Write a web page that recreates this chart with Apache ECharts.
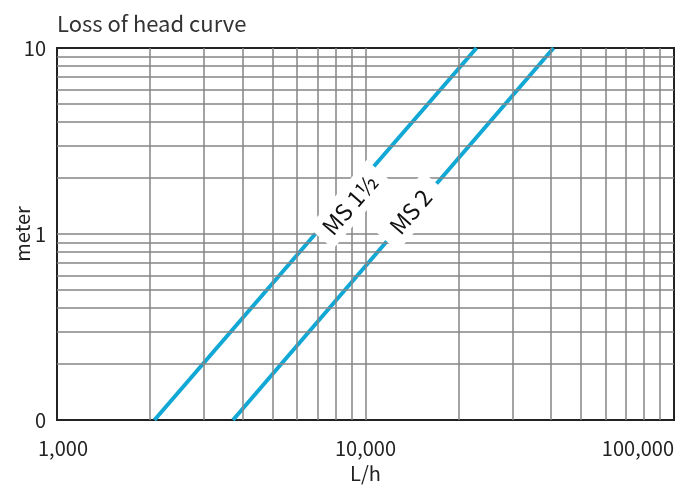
<!DOCTYPE html>
<html>
<head>
<meta charset="utf-8">
<script src="https://cdn.jsdelivr.net/npm/echarts@6/dist/echarts.min.js"></script>
<style>
html,body{margin:0;padding:0;background:#fff;}
#chart{width:682px;height:489px;}
</style>
</head>
<body>
<div id="chart"></div>
<script>
// Flow (L/h) vs loss of head (meter)
const ms15Flow = [2070, 6870, 22900];
const ms15Head = [0.1, 1, 10];
const ms2Flow = [3720, 12290, 40700];
const ms2Head = [0.1, 1, 10];

// Curve labels (data positions)
const curveLabelNames = ['MS 1½', 'MS 2'];
const curveLabelFlow = [8900, 14000];
const curveLabelHead = [1.44, 1.32];

// Grid lines (log scale, 1-2-...-9 per decade)
const xGridValues = [2000,3000,4000,5000,6000,7000,8000,9000,10000,20000,30000,40000,50000,60000,70000,80000,90000];
const yGridValues = [0.2,0.3,0.4,0.5,0.6,0.7,0.8,0.9,1,2,3,4,5,6,7,8,9];

// Tick labels
const xTickValues = [1000, 10000, 100000];
const xTickLabels = ['1,000', '10,000', '100,000'];
const yTickValues = [0.1, 1, 10];
const yTickLabels = ['0', '1', '10'];

const FONT = '"Noto Sans CJK JP", "Noto Sans", sans-serif';
const LINE_COLOR = '#12a8d6';
const GRID_COLOR = '#858585';
const LABEL_PADDING = [[5, 9], [5, 13]];

const chart = echarts.init(document.getElementById('chart'), null, { renderer: 'canvas' });

function zip(a, b) { return a.map((v, i) => [v, b[i]]); }

const option = {
  backgroundColor: '#fff',
  animation: false,
  textStyle: { fontFamily: FONT },
  title: {
    text: 'Loss of head curve',
    left: 52,
    top: 8,
    textStyle: { fontFamily: FONT, fontSize: 22, fontWeight: 'normal', color: '#333' }
  },
  grid: {
    left: 57, right: 8, top: 48, bottom: 69,
    containLabel: false, outerBoundsMode: 'none',
    show: true, borderColor: '#222', borderWidth: 2, backgroundColor: 'transparent'
  },
  xAxis: {
    type: 'log', logBase: 10, min: 1000, max: 100000,
    name: 'L/h', nameLocation: 'middle', nameGap: 43, nameMoveOverlap: false,
    nameTextStyle: { fontFamily: FONT, fontSize: 20, color: '#222' },
    axisLine: { show: true, lineStyle: { color: '#222', width: 2 } },
    axisTick: { show: false },
    splitLine: { show: false },
    axisLabel: {
      fontFamily: FONT, fontSize: 20, color: '#222', margin: 18,
      alignMaxLabel: 'right', hideOverlap: false,
      formatter: function (v) {
        const i = xTickValues.findIndex(t => Math.abs(Math.log10(t) - Math.log10(v)) < 1e-6);
        if (i < 0) return '';
        if (i === 0) return '{first|' + xTickLabels[i] + '}';
        return xTickLabels[i];
      },
      rich: { first: { fontFamily: FONT, fontSize: 20, color: '#222', padding: [0, 0, 0, 12] } }
    }
  },
  yAxis: {
    type: 'log', logBase: 10, min: 0.1, max: 10,
    name: 'meter', nameLocation: 'middle', nameGap: 25, nameRotate: 90, nameMoveOverlap: false,
    nameTextStyle: { fontFamily: FONT, fontSize: 20, color: '#222' },
    axisLine: { show: true, lineStyle: { color: '#222', width: 2 } },
    axisTick: { show: false },
    splitLine: { show: false },
    axisLabel: {
      fontFamily: FONT, fontSize: 20, color: '#222', margin: 11,
      formatter: function (v) {
        const i = yTickValues.findIndex(t => Math.abs(Math.log10(t) - Math.log10(v)) < 1e-6);
        return i < 0 ? '' : yTickLabels[i];
      }
    }
  },
  series: [
    {
      type: 'line', name: 'grid', data: [], silent: true,
      markLine: {
        silent: true, symbol: ['none', 'none'], animation: false,
        label: { show: false },
        lineStyle: { color: GRID_COLOR, width: 1.5, type: 'solid' },
        emphasis: { disabled: true },
        data: xGridValues.map(v => ({ xAxis: v })).concat(yGridValues.map(v => ({ yAxis: v })))
      },
      z: 1
    },
    {
      type: 'line', name: 'MS 1½', data: zip(ms15Flow, ms15Head),
      showSymbol: false, symbol: 'none', lineStyle: { color: LINE_COLOR, width: 4 }, z: 3
    },
    {
      type: 'line', name: 'MS 2', data: zip(ms2Flow, ms2Head),
      showSymbol: false, symbol: 'none', lineStyle: { color: LINE_COLOR, width: 4 }, z: 3
    },
    {
      type: 'scatter', name: 'labels', symbolSize: 0, z: 5, silent: true,
      itemStyle: { opacity: 1, color: '#fff' },
      labelLayout: { hideOverlap: false },
      data: curveLabelNames.map((n, i) => ({
        value: [curveLabelFlow[i], curveLabelHead[i]], name: n,
        label: { padding: LABEL_PADDING[i] }
      })),
      label: {
        show: true, position: 'inside', rotate: 49, opacity: 1,
        formatter: p => p.name,
        fontFamily: FONT, fontSize: 23, color: '#111',
        textBorderWidth: 0, textBorderColor: 'transparent',
        backgroundColor: '#fff'
      }
    }
  ]
};
chart.setOption(option);
</script>
</body>
</html>
